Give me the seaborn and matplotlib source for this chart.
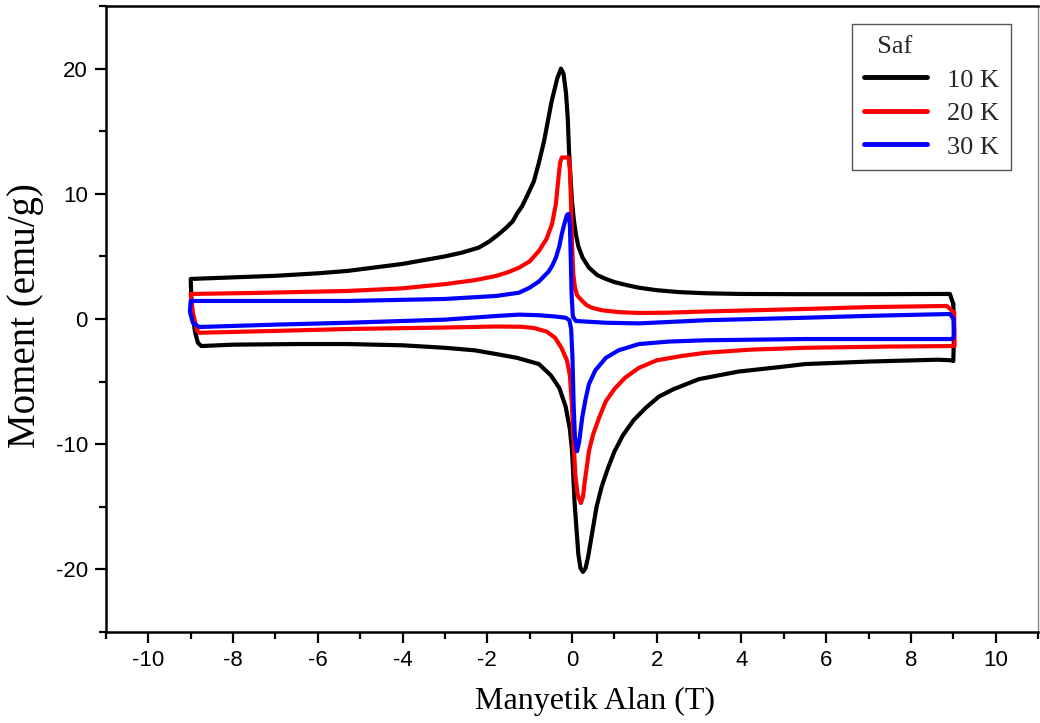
import matplotlib
matplotlib.use("Agg")
import matplotlib.pyplot as plt
import seaborn as sns
import pandas as pd
from matplotlib.ticker import MultipleLocator

# hysteresis loops: upper branch (field going down), then lower branch (field going up)
field_10K = [9.00, 8.92, 8.60, 7.00, 5.50, 4.00, 3.20, 2.52, 2.00, 1.58, 1.30, 1.00, 0.80, 0.60, 0.40, 0.25,
             0.15, 0.09, 0.04, 0.00, -0.03, -0.07, -0.10, -0.14, -0.20, -0.26,
             -0.35, -0.40, -0.48, -0.57, -0.66, -0.78, -0.90, -1.05, -1.18, -1.30, -1.40, -1.55, -1.72, -1.95,
             -2.20, -2.60, -3.00, -3.50, -4.00, -5.30, -6.00, -7.00, -9.00,
             -8.98, -8.90, -8.83, -8.75, -8.00, -6.50, -5.30, -4.00, -3.00, -2.30, -1.79, -1.30, -0.78, -0.50,
             -0.30, -0.15, -0.05, 0.00, 0.03, 0.06, 0.10, 0.15, 0.20, 0.26, 0.32, 0.38, 0.47, 0.58, 0.70, 0.85,
             1.00, 1.20, 1.45, 1.74, 2.05, 2.40, 3.00, 3.93, 5.00, 5.50, 7.00, 8.64, 8.95, 9.00, 9.02, 9.00]
moment_10K = [1.2, 2.0, 2.0, 1.98, 1.98, 2.0, 2.05, 2.15, 2.3, 2.5, 2.7, 2.95, 3.2, 3.5, 4.1, 4.9,
              5.8, 6.8, 8.0, 9.4, 11.0, 13.4, 16.0, 18.0, 19.6, 20.0,
              19.2, 18.5, 17.4, 15.8, 14.2, 12.5, 11.0, 9.9, 9.0, 8.4, 7.8, 7.3, 6.8, 6.2,
              5.7, 5.3, 5.0, 4.7, 4.4, 3.84, 3.65, 3.45, 3.2,
              1.0, -1.0, -1.9, -2.16, -2.05, -2.0, -2.0, -2.1, -2.3, -2.5, -2.8, -3.1, -3.6, -4.5,
              -5.5, -7.0, -8.8, -10.5, -12.5, -14.6, -16.5, -18.8, -19.9, -20.2, -19.9, -19.0, -17.2, -15.0, -13.4, -11.9,
              -10.6, -9.3, -8.1, -7.1, -6.2, -5.6, -4.8, -4.2, -3.8, -3.6, -3.4, -3.25, -3.3, -3.36, -1.0, 1.2]

field_20K = [9.02, 8.85, 7.00, 5.50, 3.15, 2.20, 1.58, 1.10, 0.70, 0.47, 0.35, 0.24, 0.12, 0.07, 0.03, 0.00,
             -0.02, -0.05, -0.08, -0.24, -0.28, -0.31, -0.38, -0.47, -0.60, -0.78, -1.00, -1.25, -1.50, -1.79,
             -2.30, -2.96, -4.00, -5.30, -7.50, -9.00,
             -8.95, -8.85, -8.80, -7.00, -5.30, -3.00, -1.79, -1.20, -0.90, -0.60, -0.40, -0.25, -0.12, -0.05,
             0.00, 0.04, 0.08, 0.13, 0.21, 0.26, 0.30, 0.35, 0.40, 0.50, 0.65, 0.80, 1.00, 1.25, 1.58, 2.00,
             2.60, 3.15, 4.20, 5.50, 7.50, 9.03, 9.02]
moment_20K = [0.5, 1.04, 0.95, 0.8, 0.6, 0.5, 0.48, 0.55, 0.7, 0.9, 1.1, 1.44, 1.9, 2.5, 3.6, 6.0,
              8.9, 12.0, 12.9, 12.9, 12.5, 11.6, 9.2, 7.6, 6.4, 5.44, 4.6, 4.1, 3.75, 3.44,
              3.1, 2.8, 2.45, 2.24, 2.08, 2.0,
              0.5, -0.9, -1.1, -0.95, -0.8, -0.68, -0.6, -0.62, -0.72, -1.0, -1.5, -2.3, -3.3, -4.5,
              -7.0, -10.0, -12.5, -14.0, -14.7, -14.2, -13.0, -11.8, -10.56, -9.2, -7.8, -6.56, -5.6, -4.7, -3.9, -3.3,
              -2.95, -2.7, -2.45, -2.3, -2.2, -2.16, 0.5]

field_30K = [9.01, 8.92, 7.00, 5.50, 3.15, 1.58, 0.80, 0.30, 0.09, 0.02, -0.01, -0.03, -0.05, -0.08, -0.12,
             -0.18, -0.24, -0.30, -0.38, -0.46, -0.55, -0.78, -1.00, -1.25, -1.79, -3.00, -5.30, -9.00,
             -9.02, -8.95, -8.80, -7.00, -5.30, -3.00, -1.79, -1.25, -0.78, -0.40, -0.15, -0.06, -0.02, 0.01,
             0.04, 0.07, 0.12, 0.17, 0.24, 0.32, 0.40, 0.55, 0.80, 1.10, 1.58, 2.30, 3.15, 5.50, 8.95, 9.01, 9.01]
moment_30K = [0.0, 0.4, 0.25, 0.1, -0.1, -0.35, -0.3, -0.2, -0.16, 0.2, 2.0, 5.0, 7.5, 8.4, 8.3,
              7.6, 6.8, 5.8, 4.9, 4.3, 3.8, 3.0, 2.5, 2.1, 1.84, 1.6, 1.44, 1.44,
              0.6, -0.3, -0.64, -0.45, -0.3, -0.05, 0.24, 0.35, 0.3, 0.2, 0.1, -0.1, -0.8, -3.0,
              -7.0, -9.5, -10.56, -9.8, -7.9, -6.4, -5.2, -4.1, -3.1, -2.5, -2.0, -1.8, -1.7, -1.6, -1.6, -1.5, 0.0]

temps = ["10 K", "20 K", "30 K"]
colors = ["#000000", "#ff0000", "#0000ff"]

frames = []
for t, f, m in zip(temps, [field_10K, field_20K, field_30K], [moment_10K, moment_20K, moment_30K]):
    frames.append(pd.DataFrame({"field": f, "moment": m, "temp": t}))
df = pd.concat(frames, ignore_index=True)

sns.set_style("ticks")
plt.rcParams["font.family"] = ["Liberation Sans", "DejaVu Sans"]
plt.rcParams["axes.unicode_minus"] = False
plt.rcParams["axes.labelcolor"] = "black"

fig = plt.figure(figsize=(10.4, 7.23), dpi=100)
ax = fig.add_axes([106 / 1040, 1 - 632 / 723, 932 / 1040, 626 / 723])

sns.lineplot(data=df, x="field", y="moment", hue="temp", palette=colors, sort=False,
             estimator=None, units="temp", lw=3, ax=ax, legend=False)
for line in ax.lines:
    line.set_solid_joinstyle("round")
    line.set_solid_capstyle("round")

ax.set_xlim(-11, 11)
ax.set_ylim(-25, 25)
ax.xaxis.set_major_locator(MultipleLocator(2))
ax.xaxis.set_minor_locator(MultipleLocator(1))
ax.yaxis.set_major_locator(MultipleLocator(10))
ax.yaxis.set_minor_locator(MultipleLocator(5))
ax.tick_params(which="major", direction="out", length=8, width=1.6, labelsize=16, pad=5,
               color="black", labelcolor="black")
ax.tick_params(which="minor", direction="out", length=5, width=1.6, color="black")

for side in ["left", "bottom", "top"]:
    ax.spines[side].set_color("black")
    ax.spines[side].set_linewidth(1.8)
ax.spines["right"].set_color("#888888")
ax.spines["right"].set_linewidth(1.0)

ax.set_xlabel("Manyetik Alan (T)", family=["Liberation Serif"], fontsize=23, color="black")
ax.set_ylabel("Moment (emu/g)", family=["Liberation Serif"], fontsize=28, color="black")
ax.xaxis.set_label_coords(0.525, -0.087)
ax.yaxis.set_label_coords(-0.066, 0.505)

handles = [plt.Line2D([], [], color=c, lw=3.5, solid_capstyle="round") for c in colors]
leg = ax.legend(handles, temps, title="  Saf", loc="upper right", bbox_to_anchor=(0.971, 0.971),
                borderaxespad=0, frameon=True, fancybox=False, edgecolor="#555555", framealpha=1,
                prop={"family": "Liberation Serif", "size": 19},
                title_fontproperties={"family": "Liberation Serif", "size": 19},
                handlelength=2.4, handletextpad=0.75, labelspacing=0.38, borderpad=0.45, alignment="left")
leg.get_frame().set_linewidth(1.0)

fig.savefig("out.png", dpi=100)
